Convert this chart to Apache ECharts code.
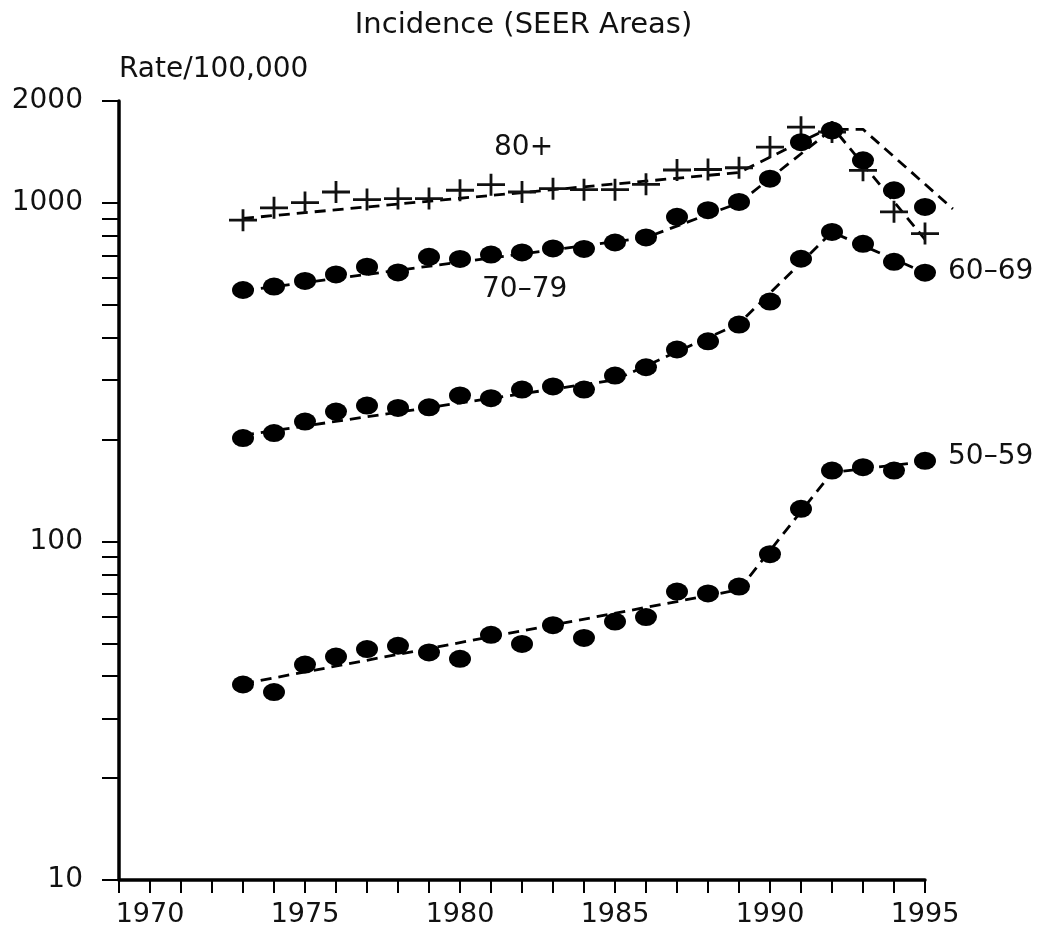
<!DOCTYPE html>
<html>
<head>
<meta charset="utf-8">
<script src="https://cdn.jsdelivr.net/npm/echarts@6/dist/echarts.min.js"></script>
<style>
html,body{margin:0;padding:0;background:#fff;}
#chart{width:1047px;height:928px;}
</style>
</head>
<body>
<div id="chart"></div>
<script>
// ---- data ----
const years = [1973, 1974, 1975, 1976, 1977, 1978, 1979, 1980, 1981, 1982, 1983, 1984,
               1985, 1986, 1987, 1988, 1989, 1990, 1991, 1992, 1993, 1994, 1995];
const rate80 = [889, 967, 1002, 1077, 1023, 1030, 1030, 1090, 1132, 1077, 1102, 1094,
                1094, 1135, 1251, 1255, 1270, 1462, 1674, 1620, 1248, 941, 812];
const rate70 = [553, 566, 588, 615, 648, 623, 693, 683, 704, 714, 734, 731,
                764, 791, 910, 952, 1007, 1179, 1512, 1637, 1336, 1090, 973];
const rate60 = [202, 209, 226, 242, 252, 248, 249, 270, 265, 281, 287, 281,
                309, 327, 369, 390, 437, 511, 684, 821, 757, 670, 622];
const rate50 = [37.8, 35.9, 43.3, 45.7, 48.1, 49.2, 47.0, 45.0, 53.0, 49.8, 56.6, 51.9,
                58.0, 59.8, 71.1, 70.2, 73.6, 91.7, 124.9, 162, 165.7, 162, 173];

// joinpoint trend lines (dashed)
const fitYears80 = [1973, 1989, 1992, 1995];
const fitRate80  = [900, 1230, 1680, 780];
const fitYears70 = [1973, 1986, 1989, 1992, 1993, 1995.9];
const fitRate70  = [550, 790, 1000, 1650, 1650, 960];
const fitYears60 = [1973, 1985, 1989, 1992, 1995];
const fitRate60  = [206, 300, 440, 820, 622];
const fitYears50 = [1973, 1989, 1992, 1995];
const fitRate50  = [38, 72, 160, 172];

const yTickValues = [10, 20, 30, 40, 50, 60, 70, 80, 90, 100, 200, 300, 400, 500, 600, 700, 800, 900, 1000, 2000];
const yLabelValues = [10, 100, 1000, 2000];
const xLabelYears = [1970, 1975, 1980, 1985, 1990, 1995];

const titleText = 'Incidence (SEER Areas)';
const yAxisTitle = 'Rate/100,000';
const groupNames = ['80+', '70\u201379', '60\u201369', '50\u201359'];

// ---- build ----
const zip = (xs, ys) => xs.map((x, i) => [x, ys[i]]);
const FONT = 'DejaVu Sans';
const TXT = '#111';
const plusPath = 'path://M0,9.6 H28 V12.4 H0 Z M12.6,0 H15.4 V22 H12.6 Z';

// main plot: 1969..1995 over 806 px (31 px / year); overflow plot: same scale up to 1997
const dashLine = (name, xs, ys, idx) => ({
  name: name + ' trend', type: 'line', data: zip(xs, ys), showSymbol: false, symbol: 'none',
  xAxisIndex: idx, yAxisIndex: idx, clip: false, z: 2, silent: true,
  lineStyle: { color: '#000', width: 2.8, type: [11, 7] }
});
const dots = (name, ys) => ({
  name: name, type: 'scatter', data: zip(years, ys), symbol: 'circle', symbolSize: [22, 18],
  itemStyle: { color: '#000', opacity: 1 }, z: 3
});

const chart = echarts.init(document.getElementById('chart'));
chart.setOption({
  animation: false,
  backgroundColor: '#fff',
  title: {
    text: titleText, left: 'center', top: 6,
    textStyle: { fontFamily: FONT, fontSize: 29, fontWeight: 'normal', color: TXT }
  },
  grid: [
    { left: 119, right: 122, top: 101, bottom: 48, containLabel: false },
    { left: 119, right: 60, top: 101, bottom: 48, containLabel: false }
  ],
  xAxis: [{
    type: 'value', min: 1969, max: 1995, interval: 1, gridIndex: 0,
    axisLine: { onZero: false, lineStyle: { color: '#000', width: 3.5 } },
    axisTick: { length: 13, lineStyle: { color: '#000', width: 2 } },
    splitLine: { show: false },
    axisLabel: {
      margin: 21, fontFamily: FONT, fontSize: 27, color: TXT,
      formatter: v => (xLabelYears.indexOf(v) >= 0 ? String(v) : '')
    }
  }, {
    type: 'value', min: 1969, max: 1997, gridIndex: 1, show: false
  }],
  yAxis: [{
    type: 'log', logBase: 10, min: 10, max: 2000, gridIndex: 0,
    name: yAxisTitle, nameLocation: 'end', nameGap: 31,
    nameTextStyle: { fontFamily: FONT, fontSize: 28, color: TXT, align: 'left', verticalAlign: 'middle' },
    axisLine: { show: true, lineStyle: { color: '#000', width: 3.5 } },
    axisTick: { show: true, length: 17, customValues: yTickValues, lineStyle: { color: '#000', width: 2 } },
    splitLine: { show: false },
    minorTick: { show: false },
    axisLabel: {
      margin: 36, fontFamily: FONT, fontSize: 28, color: TXT,
      customValues: yLabelValues,
      formatter: v => String(Math.round(v))
    }
  }, {
    type: 'log', logBase: 10, min: 10, max: 2000, gridIndex: 1, show: false
  }],
  graphic: [
    { type: 'text', left: 494, top: 134, style: { text: groupNames[0], font: '28px "DejaVu Sans"', fill: TXT } },
    { type: 'text', left: 482, top: 276, style: { text: groupNames[1], font: '28px "DejaVu Sans"', fill: TXT } },
    { type: 'text', left: 948, top: 258, style: { text: groupNames[2], font: '28px "DejaVu Sans"', fill: TXT } },
    { type: 'text', left: 948, top: 443, style: { text: groupNames[3], font: '28px "DejaVu Sans"', fill: TXT } }
  ],
  series: [
    dashLine(groupNames[0], fitYears80, fitRate80, 0),
    dashLine(groupNames[1], fitYears70, fitRate70, 1),
    dashLine(groupNames[2], fitYears60, fitRate60, 0),
    dashLine(groupNames[3], fitYears50, fitRate50, 0),
    {
      name: groupNames[0], type: 'scatter', data: zip(years, rate80),
      symbol: plusPath, symbolSize: [28, 22], symbolKeepAspect: false,
      itemStyle: { color: '#111', opacity: 1 }, z: 3
    },
    dots(groupNames[1], rate70),
    dots(groupNames[2], rate60),
    dots(groupNames[3], rate50)
  ]
});
</script>
</body>
</html>
